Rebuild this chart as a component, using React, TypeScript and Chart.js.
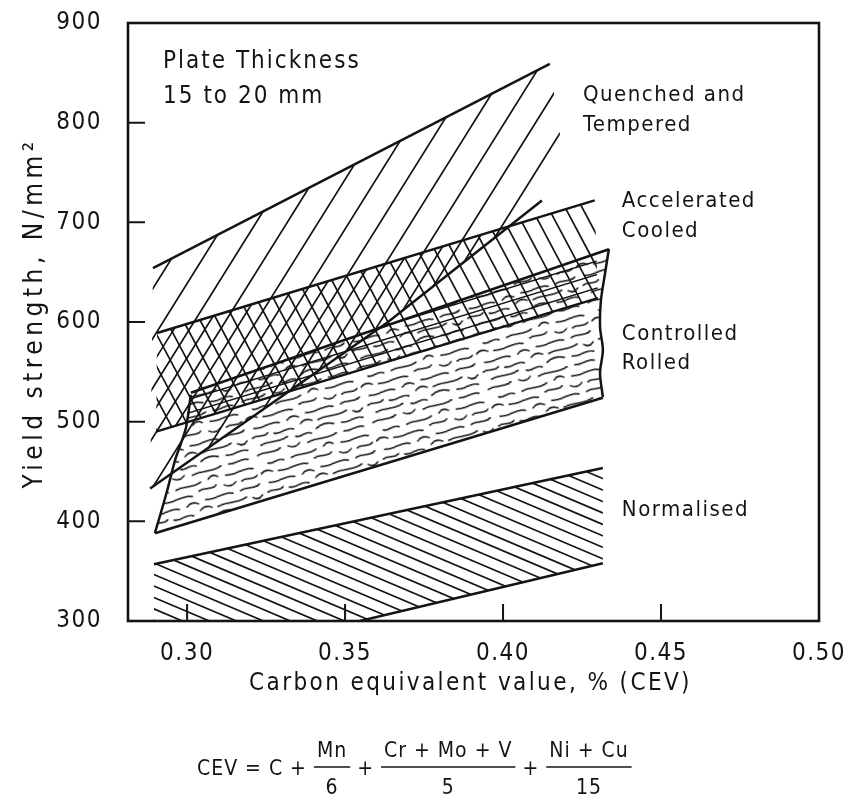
import React, { useEffect, useRef } from 'react';
import { Chart, registerables } from 'chart.js';

Chart.register(...registerables);

type P = [number, number];

// ---- axes ----
const X_MIN = 0.2813;
const X_MAX = 0.5;
const X_STEP = 0.05;
const Y_MIN = 300;
const Y_MAX = 900;
const Y_STEP = 100;
const X_TITLE = 'Carbon equivalent value, % (CEV)';
const Y_TITLE = 'Yield strength, N/mm\u00B2';

// ---- Quenched and Tempered band ----
const qtUpper: P[] = [[0.2892, 654], [0.4148, 859]];
const qtRightEdge: P[] = [[0.4186, 775]];
const qtLower: P[] = [[0.2883, 433], [0.3636, 600], [0.4123, 722]];

// ---- Accelerated Cooled band ----
const acUpper: P[] = [[0.2905, 589], [0.429, 722]];
const acLower: P[] = [[0.2902, 490], [0.43, 624]];

// ---- Controlled Rolled band ----
const crUpper: P[] = [[0.3012, 529], [0.4335, 673]];
const crLower: P[] = [[0.2898, 388], [0.4316, 524]];
const crRightEdge: P[] = [
  [0.4316, 524.7], [0.4307, 548.8], [0.4316, 571.9], [0.4307, 595],
  [0.431, 622], [0.4323, 649.2], [0.4335, 673.2],
];
const crLeftEdge: P[] = [
  [0.2898, 388.3], [0.2917, 408.4], [0.294, 434.4], [0.2962, 461.5],
  [0.2981, 478.6], [0.2997, 494.6], [0.3012, 527],
];

// ---- Normalised band ----
const nUpper: P[] = [[0.2895, 357], [0.4316, 453.5]];
const nLower: P[] = [[0.3547, 300], [0.4316, 358]];
const nLeftFoot: P[] = [[0.2895, 300]];

// ---- text annotations (anchored in data coordinates) ----
const NOTE_LINES = ['Plate Thickness', '15 to 20 mm'];
const NOTE_ANCHOR: P[] = [[0.2924, 855], [0.2924, 820]];
const REGION_LABELS = [
  'Quenched and', 'Tempered', 'Accelerated', 'Cooled',
  'Controlled', 'Rolled', 'Normalised',
];
const REGION_ANCHORS: P[] = [
  [0.4253, 821.7], [0.4253, 791.6], [0.4376, 715.4], [0.4376, 685.3],
  [0.4376, 581.9], [0.4376, 552.8], [0.4376, 405.3],
];

const INK = '#141414';
const FONT = '"DejaVu Sans Condensed", "DejaVu Sans", sans-serif';

// decorative texture strokes for the controlled-rolled pattern tile (120x56)
// [x, y, length, amplitude, kind]  kind 0 = S-curve, 1 = arc
const SQUIGGLES: number[][] = [
  [2, 5, 24, 3, 0], [34, 4, 12, -3, 1], [54, 6, 30, 3, 0], [92, 5, 20, -2.5, 0],
  [10, 15, 16, -3, 0], [34, 16, 26, 3, 0], [68, 14, 10, 3, 1], [86, 15, 28, -3, 0],
  [0, 24, 12, 3, 1], [18, 25, 30, -3, 0], [56, 23, 18, 3, 0], [82, 24, 12, -3, 1], [100, 25, 16, 3, 0],
  [6, 34, 26, -3, 0], [40, 35, 12, 3, 1], [60, 33, 28, -3, 0], [96, 34, 20, 3, 0],
  [2, 43, 16, 3, 0], [24, 44, 20, -3, 0], [52, 42, 12, 3, 1], [70, 43, 30, 3, 0], [106, 44, 10, -3, 1],
  [8, 52, 28, 3, 0], [44, 53, 16, -3, 0], [66, 51, 18, 3, 1], [92, 52, 22, -3, 0],
];

const rev = (a: P[]) => [...a].reverse();
const qtPoly: P[] = [...qtUpper, ...qtRightEdge, ...rev(qtLower)];
const acPoly: P[] = [...acUpper, ...rev(acLower)];
const crPoly: P[] = [...crLower, ...crRightEdge, ...rev(crUpper), ...rev(crLeftEdge)];
const nPoly: P[] = [...nUpper, ...rev(nLower), ...nLeftFoot];

function toPx(chart: any, pts: P[]): P[] {
  const xs = chart.scales.x;
  const ys = chart.scales.y;
  return pts.map(([x, y]) => [xs.getPixelForValue(x), ys.getPixelForValue(y)] as P);
}

function pathPoly(ctx: CanvasRenderingContext2D, px: P[]) {
  ctx.beginPath();
  px.forEach(([x, y], i) => (i ? ctx.lineTo(x, y) : ctx.moveTo(x, y)));
  ctx.closePath();
}

function hatch(ctx: CanvasRenderingContext2D, area: any, angleDeg: number, spacing: number, offset: number, lw: number) {
  const a = (angleDeg * Math.PI) / 180;
  const dx = Math.cos(a);
  const dy = -Math.sin(a);
  const L = 2500;
  const yRef = (area.top + area.bottom) / 2;
  ctx.beginPath();
  for (let x = area.left - 2600 + offset; x < area.right + 2600; x += spacing) {
    ctx.moveTo(x - dx * L, yRef - dy * L);
    ctx.lineTo(x + dx * L, yRef + dy * L);
  }
  ctx.lineWidth = lw;
  ctx.strokeStyle = INK;
  ctx.stroke();
}

function wavyPattern(ctx: CanvasRenderingContext2D) {
  const c = document.createElement('canvas');
  c.width = 120;
  c.height = 56;
  const g = c.getContext('2d')!;
  g.strokeStyle = INK;
  g.lineWidth = 1.6;
  g.lineCap = 'round';
  for (const [x, y, len, amp, kind] of SQUIGGLES) {
    g.beginPath();
    g.moveTo(x, y);
    if (kind === 0) {
      g.bezierCurveTo(x + len / 3, y - amp, x + (2 * len) / 3, y + amp, x + len, y - amp * 0.4);
    } else {
      g.quadraticCurveTo(x + len / 2, y - amp * 1.6, x + len, y);
    }
    g.stroke();
  }
  const p = ctx.createPattern(c, 'repeat')!;
  p.setTransform(new DOMMatrix().rotate(-16));
  return p;
}

function spacedText(ctx: CanvasRenderingContext2D, t: string, x: number, y: number, spacing: number) {
  (ctx as any).letterSpacing = `${spacing}px`;
  ctx.fillText(t, x, y);
}

const regionPlugin = {
  id: 'regions',
  beforeDraw(chart: any) {
    (chart.ctx as any).letterSpacing = '1.5px';
  },
  beforeDatasetsDraw(chart: any) {
    const ctx: CanvasRenderingContext2D = chart.ctx;
    const a = chart.chartArea;
    const clipped = (polys: P[][], fn: () => void) => {
      ctx.save();
      ctx.beginPath();
      ctx.rect(a.left, a.top, a.right - a.left, a.bottom - a.top);
      ctx.clip();
      for (const p of polys) {
        pathPoly(ctx, toPx(chart, p));
        ctx.clip();
      }
      fn();
      ctx.restore();
    };
    clipped([nPoly], () => hatch(ctx, a, -23, 27, 6, 1.7));
    clipped([crPoly], () => {
      ctx.fillStyle = wavyPattern(ctx);
      ctx.fillRect(a.left, a.top, a.right - a.left, a.bottom - a.top);
    });
    clipped([qtPoly], () => hatch(ctx, a, 58, 31, 0, 1.7));
    clipped([acPoly], () => hatch(ctx, a, -62, 17, 4, 1.7));
    clipped([acPoly, qtPoly], () => hatch(ctx, a, 58, 31, 15.5, 1.7));
    clipped([acPoly, crPoly], () => hatch(ctx, a, 17, 44, 10, 1.4));
  },
  afterDraw(chart: any) {
    const ctx: CanvasRenderingContext2D = chart.ctx;
    const a = chart.chartArea;
    const xs = chart.scales.x;
    const ys = chart.scales.y;
    ctx.save();
    ctx.strokeStyle = INK;
    ctx.lineWidth = 2.6;
    ctx.strokeRect(a.left, a.top, a.right - a.left, a.bottom - a.top);
    ctx.lineWidth = 2;
    ctx.beginPath();
    for (const t of ys.ticks) {
      if (t.value <= Y_MIN || t.value >= Y_MAX) continue;
      const y = ys.getPixelForValue(t.value);
      ctx.moveTo(a.left, y);
      ctx.lineTo(a.left + 17, y);
    }
    for (const t of xs.ticks) {
      if (t.value >= X_MAX - 1e-9) continue;
      const x = xs.getPixelForValue(t.value);
      ctx.moveTo(x, a.bottom);
      ctx.lineTo(x, a.bottom - 17);
    }
    ctx.stroke();

    ctx.fillStyle = INK;

    // axis titles
    ctx.textAlign = 'center';
    ctx.textBaseline = 'middle';
    ctx.font = `24px ${FONT}`;
    spacedText(ctx, X_TITLE, (a.left + a.right) / 2 - 3, 684, 2.4);
    ctx.save();
    ctx.translate(35, (a.top + a.bottom) / 2 - 9);
    ctx.rotate(-Math.PI / 2);
    ctx.font = `26px ${FONT}`;
    spacedText(ctx, Y_TITLE, 0, 0, 4.5);
    ctx.restore();

    // annotations
    ctx.textAlign = 'left';
    ctx.textBaseline = 'alphabetic';
    ctx.font = `24px ${FONT}`;
    NOTE_LINES.forEach((t, i) => {
      const [px, py] = toPx(chart, [NOTE_ANCHOR[i]])[0];
      spacedText(ctx, t, px, py, 2);
    });
    ctx.font = `22px ${FONT}`;
    REGION_LABELS.forEach((t, i) => {
      const [px, py] = toPx(chart, [REGION_ANCHORS[i]])[0];
      spacedText(ctx, t, px, py, 1.5);
    });

    // CEV formula
    const barY = 767;
    const base = barY + 8;
    let x = 197;
    const gap = 7;
    ctx.font = `21px ${FONT}`;
    (ctx as any).letterSpacing = '1px';
    const word = (t: string) => {
      ctx.textAlign = 'left';
      ctx.fillText(t, x, base);
      x += ctx.measureText(t).width + gap;
    };
    const frac = (n: string, d: string) => {
      const w = Math.max(ctx.measureText(n).width, ctx.measureText(d).width) + 6;
      ctx.textAlign = 'center';
      ctx.fillText(n, x + w / 2, barY - 10);
      ctx.fillText(d, x + w / 2, barY + 27);
      ctx.lineWidth = 1.7;
      ctx.beginPath();
      ctx.moveTo(x, barY);
      ctx.lineTo(x + w, barY);
      ctx.stroke();
      x += w + gap;
    };
    word('CEV');
    word('=');
    word('C');
    word('+');
    frac('Mn', '6');
    word('+');
    frac('Cr + Mo + V', '5');
    word('+');
    frac('Ni + Cu', '15');
    ctx.restore();
  },
};

const lineDs = (pts: P[], tension = 0) => ({
  data: pts.map(([x, y]) => ({ x, y })),
  showLine: true,
  borderColor: INK,
  borderWidth: 2.5,
  pointRadius: 0,
  fill: false,
  tension,
});

function fixPadding(s: any) {
  s.paddingLeft = 0;
  s.paddingRight = 0;
  s.paddingTop = 0;
  s.paddingBottom = 0;
}

export default function App() {
  const ref = useRef<HTMLCanvasElement>(null);
  useEffect(() => {
    if (!ref.current) return;
    Chart.defaults.font.family = FONT;
    Chart.defaults.color = INK;
    const chart = new Chart(ref.current, {
      type: 'scatter',
      data: {
        datasets: [
          lineDs(qtUpper),
          lineDs(qtLower),
          lineDs(acUpper),
          lineDs(acLower),
          lineDs(crUpper),
          lineDs(crLower),
          lineDs(crRightEdge, 0.3),
          lineDs(crLeftEdge, 0.3),
          lineDs(nUpper),
          lineDs(nLower),
        ] as any,
      },
      options: {
        responsive: false,
        animation: false,
        events: [],
        layout: { padding: { top: 23, right: 25, left: 0, bottom: 0 } },
        plugins: { legend: { display: false }, tooltip: { enabled: false } },
        scales: {
          x: {
            type: 'linear',
            min: X_MIN,
            max: X_MAX,
            afterFit(s: any) { s.height = 175; fixPadding(s); },
            grid: { display: false, drawTicks: false },
            border: { display: false },
            ticks: {
              stepSize: X_STEP,
              includeBounds: false,
              padding: 18,
              font: { size: 24 },
              color: INK,
              callback: (v: any) => Number(v).toFixed(2),
            },
            title: { display: false, text: X_TITLE },
          },
          y: {
            type: 'linear',
            min: Y_MIN,
            max: Y_MAX,
            afterFit(s: any) { s.width = 128; fixPadding(s); },
            grid: { display: false, drawTicks: false },
            border: { display: false },
            ticks: {
              stepSize: Y_STEP,
              padding: 26,
              font: { size: 24 },
              color: INK,
              callback: (v: any) => String(v),
            },
            title: { display: false, text: Y_TITLE },
          },
        },
      } as any,
      plugins: [regionPlugin],
    });
    return () => chart.destroy();
  }, []);
  return (
    <div style={{ position: 'absolute', left: 0, top: 0, width: 844, height: 796, background: '#fff' }}>
      <canvas ref={ref} width={844} height={796} style={{ display: 'block' }} />
    </div>
  );
}
